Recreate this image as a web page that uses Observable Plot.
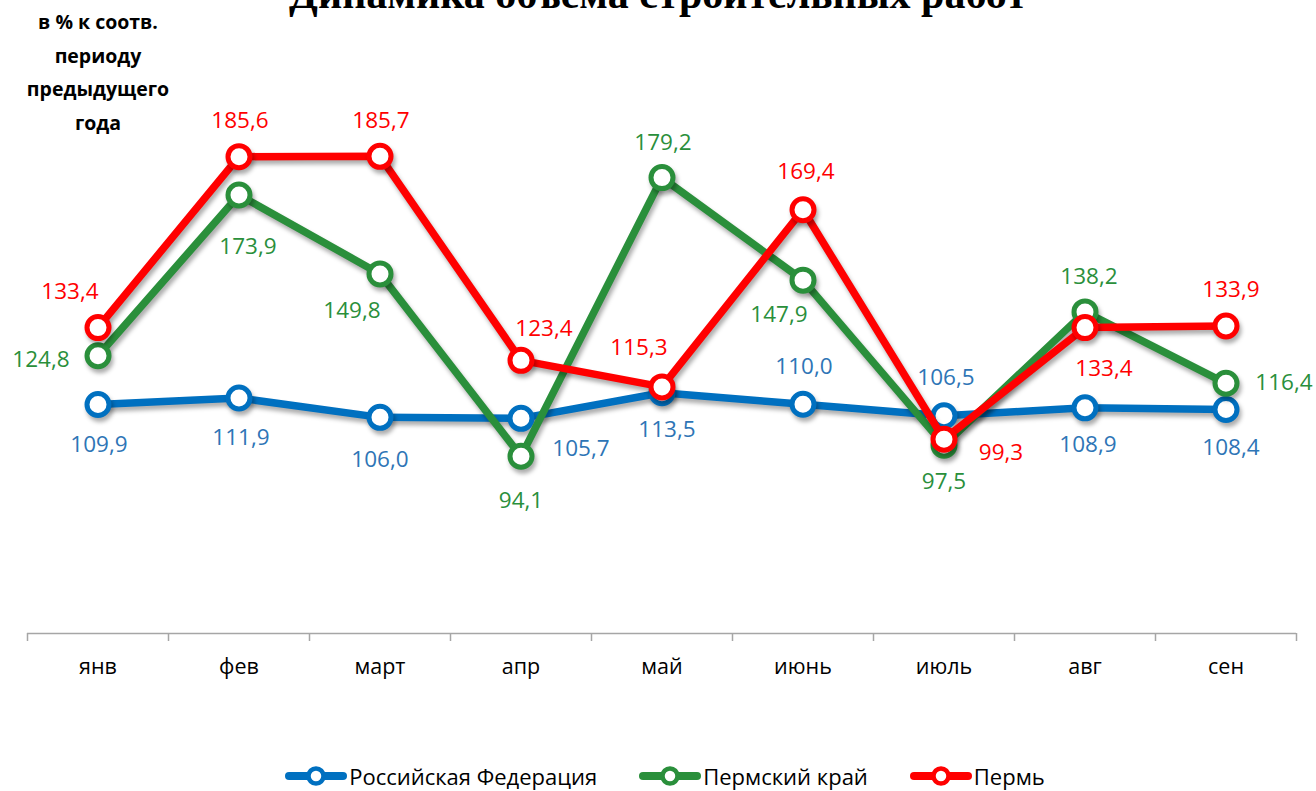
<!DOCTYPE html>
<html><head><meta charset="utf-8">
<script src="https://cdn.jsdelivr.net/npm/d3@7"></script>
<script src="https://cdn.jsdelivr.net/npm/@observablehq/plot@0.6"></script>
<style>
body{margin:0;background:#fff;}
#wrap{position:relative;width:1316px;height:791px;overflow:hidden;font-family:"Open Sans",sans-serif;background:#fff;}
#title{position:absolute;left:0;width:1316px;top:-30px;text-align:center;font:bold 42px "Liberation Serif",serif;color:#000;white-space:nowrap;}
#ylab{position:absolute;left:8px;top:5px;width:180px;text-align:center;font-weight:bold;font-size:19.5px;line-height:33.5px;color:#000;}
#chart{position:absolute;left:0;top:0;}
#chart g[aria-label="line"], #chart g[aria-label="dot"]{filter:drop-shadow(2px 4px 2px rgba(0,0,0,0.32));}
#legend{position:absolute;top:761px;left:0;width:1316px;display:flex;justify-content:center;align-items:center;gap:42px;font-size:22px;color:#000;padding-left:14px;box-sizing:border-box;}
.item{display:flex;align-items:center;gap:2px;}
</style></head>
<body><div id="wrap">
<div id="title">Динамика объема строительных работ</div>
<div id="chart"></div>
<div id="ylab">в % к соотв.<br>периоду<br>предыдущего<br>года</div>
<div id="legend"></div>
</div>
<script>
const months = ["янв","фев","март","апр","май","июнь","июль","авг","сен"];
const seriesNames = ["Российская Федерация","Пермский край","Пермь"];
const rf    = [109.9,111.9,106.0,105.7,113.5,110.0,106.5,108.9,108.4];
const krai  = [124.8,173.9,149.8,94.1,179.2,147.9,97.5,138.2,116.4];
const perm  = [133.4,185.6,185.7,123.4,115.3,169.4,99.3,133.4,133.9];

// styling (not data)
const lineColors  = ["#0070C0","#2A8F3B","#FF0000"];
const labelColors = ["#2E75B6","#2A8F3B","#FF0000"];
const labelOffsets = [
  [[1,40],[2,40],[0,42],[60,30],[5,37],[1,-37],[2,-38],[3,37],[5,38]],
  [[-57,4],[9,52],[-28,37],[0,44],[1,-35],[-24,35],[0,37],[4,-35],[58,0]],
  [[-28,-36],[1,-36],[1,-36],[23,-32],[-23,-39],[3,-38],[57,14],[19,41],[5,-36]]
];

const allSeries = [rf, krai, perm];
const fmt = v => v.toFixed(1).replace(".", ",");

const marks = [];
marks.push(Plot.ruleY([40], {stroke:"#A6A6A6", strokeWidth:1.5}));
marks.push(Plot.axisX({ticks: d3.range(months.length+1), tickFormat: () => "", tickSize: 8, stroke:"#A6A6A6", strokeWidth:1.5, label: null}));
marks.push(Plot.axisX({ticks: d3.range(months.length).map(i => i + 0.5), tickFormat: t => months[Math.round(t - 0.5)], tickSize: 0, tickPadding: 25, fontSize: 21.5, fill:"#000", label: null}));

allSeries.forEach((vals, s) => {
  const data = vals.map((v, i) => ({i: i + 0.5, v}));
  marks.push(Plot.line(data, {x:"i", y:"v", stroke: lineColors[s], strokeWidth: 7.5, strokeLinejoin:"round", strokeLinecap:"round"}));
  marks.push(Plot.dot(data, {x:"i", y:"v", r: 11, fill:"#fff", stroke: lineColors[s], strokeWidth: 5}));
});
allSeries.forEach((vals, s) => {
  vals.forEach((v, i) => {
    const [dx, dy] = labelOffsets[s][i];
    marks.push(Plot.text([{i: i + 0.5, v}], {x:"i", y:"v", text: d => fmt(d.v), dx, dy, fill: labelColors[s], fontSize: 22.5}));
  });
});

const chart = Plot.plot({
  width: 1316, height: 700,
  marginLeft: 27, marginRight: 20, marginTop: 109, marginBottom: 67,
  style: {fontFamily: '"Open Sans", sans-serif', overflow: "visible", background: "transparent"},
  x: {type: "linear", domain: [0, months.length], axis: null},
  y: {domain: [40, 200], axis: null},
  marks
});
document.getElementById("chart").appendChild(chart);

const legend = document.getElementById("legend");
seriesNames.forEach((name, s) => {
  const item = document.createElement("div");
  item.className = "item";
  item.innerHTML = `<svg width="62" height="22"><line x1="4" y1="11" x2="58" y2="11" stroke="${lineColors[s]}" stroke-width="8" stroke-linecap="round"/><circle cx="31" cy="11" r="7.5" fill="#fff" stroke="${lineColors[s]}" stroke-width="4.5"/></svg><span>${name}</span>`;
  legend.appendChild(item);
});
</script>
</body></html>
